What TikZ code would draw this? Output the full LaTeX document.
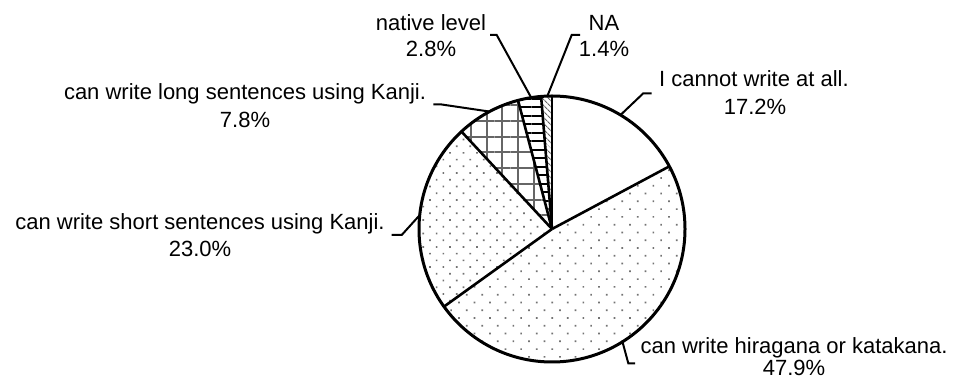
\documentclass[tikz,border=0pt]{standalone}
\usepackage{fontspec}
\setmainfont{Liberation Sans}
\usetikzlibrary{patterns.meta}
\begin{document}
\begin{tikzpicture}[x=1pt,y=1pt,
  lab/.style={anchor=base,inner sep=0pt,font=\fontsize{22}{27}\selectfont},
  leader/.style={draw=black,line width=2pt,line join=miter},
  divider/.style={draw=black,line width=2.6pt},
  dotsA/.style={pattern={Dots[angle=45,distance=11pt,radius=1.2pt]},pattern color=black!55},
  dotsB/.style={pattern={Dots[angle=45,distance=9.5pt,radius=1.2pt]},pattern color=black!55},
  gridpat/.style={pattern={Hatch[angle=0,distance=15.7pt,line width=2pt]},pattern color=black!60},
  hlines/.style={pattern={Lines[angle=0,distance=8.5pt,line width=2pt]},pattern color=black},
  dlines/.style={pattern={Lines[angle=-45,distance=4pt,line width=1.2pt]},pattern color=black!60}
]
\useasboundingbox (0,0) rectangle (953,388);
\coordinate (C) at (552,159);
\def\R{133}
% slices
\fill[white] (C) -- ++(28.1:\R) arc[start angle=28.1,end angle=90,radius=\R] -- cycle;
\fill[dotsA] (C) -- ++(-144.3:\R) arc[start angle=-144.3,end angle=28.1,radius=\R] -- cycle;
\fill[dotsB] (C) -- ++(132.9:\R) arc[start angle=132.9,end angle=215.7,radius=\R] -- cycle;
\fill[gridpat] (C) -- ++(104.8:\R) arc[start angle=104.8,end angle=132.9,radius=\R] -- cycle;
\fill[hlines] (C) -- ++(94.7:\R) arc[start angle=94.7,end angle=104.8,radius=\R] -- cycle;
\fill[dlines] (C) -- ++(90:\R) arc[start angle=90,end angle=94.7,radius=\R] -- cycle;
% dividers
\foreach \a in {28.1,-144.3,132.9,104.8,94.7,90}
  \draw[divider] (C) -- ++(\a:\R);
% outline
\node[circle,draw=black,line width=3pt,minimum size=266pt,inner sep=0pt,outer sep=0pt] (pie) at (C) {};
% leader end points
\coordinate (e1) at (643.3,294.7); \coordinate (f1) at (651.7,294.7);
\coordinate (e2) at (628.3,24.7);  \coordinate (f2) at (635,24.7);
\coordinate (e3) at (401.7,153);   \coordinate (f3) at (391.7,153);
\coordinate (e4) at (441.7,283.5); \coordinate (f4) at (433.3,283.5);
\coordinate (e5) at (496.7,353);   \coordinate (f5) at (490,353);
\coordinate (e6) at (571.7,353);   \coordinate (f6) at (580,353);
\draw[leader] (pie.59) -- (e1) -- (f1);
\draw[leader] (pie.-58.1) -- (e2) -- (f2);
\draw[leader] (pie.174.3) -- (e3) -- (f3);
\draw[leader] (pie.118.85) -- (e4) -- (f4);
\draw[leader] (pie.99.75) -- (e5) -- (f5);
\draw[leader] (pie.92.4) -- (e6) -- (f6);
% labels
\node[lab] (l1) at (754,301) {I cannot write at all.};
\node[lab] (p1) at (755,273) {17.2\%};
\node[lab] (l2) at (794,34) {can write hiragana or katakana.};
\node[lab] (p2) at (794,12) {47.9\%};
\node[lab] (l3) at (200,158) {can write short sentences using Kanji.};
\node[lab] (p3) at (200,131) {23.0\%};
\node[lab] (l4) at (245,288) {can write long sentences using Kanji.};
\node[lab] (p4) at (245,260) {7.8\%};
\node[lab] (l5) at (431,357) {native level};
\node[lab] (p5) at (431,331) {2.8\%};
\node[lab] (l6) at (604,357) {NA};
\node[lab] (p6) at (604,331) {1.4\%};
\end{tikzpicture}
\end{document}
